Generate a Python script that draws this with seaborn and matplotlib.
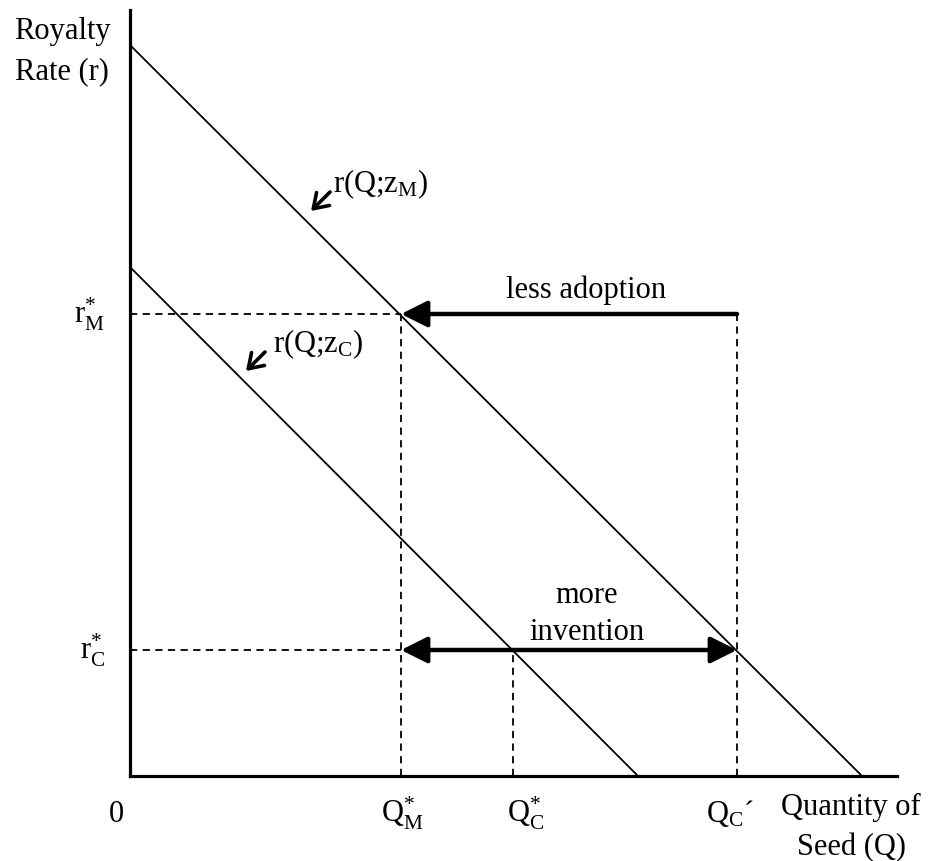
import seaborn as sns
import pandas as pd
import matplotlib.pyplot as plt

# demand curves (Q, r) end points
curve_names = ['r(Q;zM)', 'r(Q;zM)', 'r(Q;zC)', 'r(Q;zC)']
curve_q = [0, 732, 0, 508]
curve_r = [731, 0, 509, 0]

# equilibrium values
r_M = 462
r_C = 126
Q_M = 271
Q_C = 383
Q_C_prime = 607

x_max = 767
y_max = 766

sns.set_style('white')
plt.rcParams['font.family'] = ['Liberation Serif', 'DejaVu Serif']
plt.rcParams['mathtext.fontset'] = 'custom'
plt.rcParams['mathtext.rm'] = 'Liberation Serif'
plt.rcParams['mathtext.it'] = 'Liberation Serif:italic'
plt.rcParams['text.color'] = 'black'

fig = plt.figure(figsize=(9.3, 8.61), dpi=100)
ax = fig.add_axes([130 / 930, 85 / 861, 767 / 930, 766 / 861])

df = pd.DataFrame({'curve': curve_names, 'Q': curve_q, 'r': curve_r})
sns.lineplot(data=df, x='Q', y='r', units='curve', estimator=None,
             color='black', linewidth=1.3, ax=ax, legend=False)

# dashed guide lines
dash = dict(color='black', linewidth=1.3, linestyle=(0, (4, 3)))
ax.plot([0, Q_M], [r_M, r_M], **dash)
ax.plot([0, Q_M], [r_C, r_C], **dash)
ax.plot([Q_M, Q_M], [0, r_M], **dash)
ax.plot([Q_C, Q_C], [0, r_C], **dash)
ax.plot([Q_C_prime, Q_C_prime], [0, r_M], **dash)

# thick arrows
ax.annotate('', xy=(Q_M, r_M), xytext=(Q_C_prime, r_M),
            arrowprops=dict(arrowstyle='-|>,head_length=0.4,head_width=0.2',
                            color='black', lw=3.2, mutation_scale=40,
                            shrinkA=0, shrinkB=0))
ax.annotate('', xy=(Q_M, r_C), xytext=(Q_C_prime, r_C),
            arrowprops=dict(arrowstyle='<|-|>,head_length=0.4,head_width=0.2',
                            color='black', lw=3.2, mutation_scale=40,
                            shrinkA=0, shrinkB=0))
ax.text(456, 486, 'less adoption', fontsize=22, ha='center', va='center')
ax.text(457, 162, 'more\ninvention', fontsize=22, ha='center', va='center',
        linespacing=1.35)

# curve labels with small arrows
small = dict(arrowstyle='->,head_length=0.45,head_width=0.3', color='black',
             lw=2.6, mutation_scale=22, shrinkA=0, shrinkB=0)
ax.annotate('', xy=(181, 565), xytext=(200, 584), arrowprops=small)
ax.annotate('', xy=(116, 405), xytext=(135, 424), arrowprops=small)
ax.text(203, 584, r'r(Q;z$_{\mathrm{M}}$)', fontsize=22, va='baseline')
ax.text(143, 424, r'r(Q;z$_{\mathrm{C}}$)', fontsize=22, va='baseline')

# axis labels
ax.text(-68, 759, 'Royalty\nRate (r)', fontsize=22, ha='center', va='top',
        linespacing=1.5, clip_on=False)
ax.text(721, -17, 'Quantity of\nSeed (Q)', fontsize=22, ha='center', va='top',
        linespacing=1.5, clip_on=False)
ax.text(-25, r_M, r'$\mathrm{r}_{\mathrm{M}}^{*}$', fontsize=22, ha='right',
        va='center', clip_on=False)
ax.text(-25, r_C, r'$\mathrm{r}_{\mathrm{C}}^{*}$', fontsize=22, ha='right',
        va='center', clip_on=False)
ax.text(-14, -46, '0', fontsize=22, ha='center', va='baseline', clip_on=False)
ax.text(272, -46, r'$\mathrm{Q}_{\mathrm{M}}^{*}$', fontsize=22, ha='center',
        va='baseline', clip_on=False)
ax.text(396, -46, r'$\mathrm{Q}_{\mathrm{C}}^{*}$', fontsize=22, ha='center',
        va='baseline', clip_on=False)
ax.text(600, -46, r'$\mathrm{Q}_{\mathrm{C}}$´', fontsize=22, ha='center',
        va='baseline', clip_on=False)

ax.set_xlim(0, x_max)
ax.set_ylim(0, y_max)
ax.set_xticks([])
ax.set_yticks([])
ax.set_xlabel('')
ax.set_ylabel('')
sns.despine(ax=ax)
for side in ['left', 'bottom']:
    ax.spines[side].set_linewidth(2.3)
    ax.spines[side].set_color('black')

fig.savefig('out.png', dpi=100)
